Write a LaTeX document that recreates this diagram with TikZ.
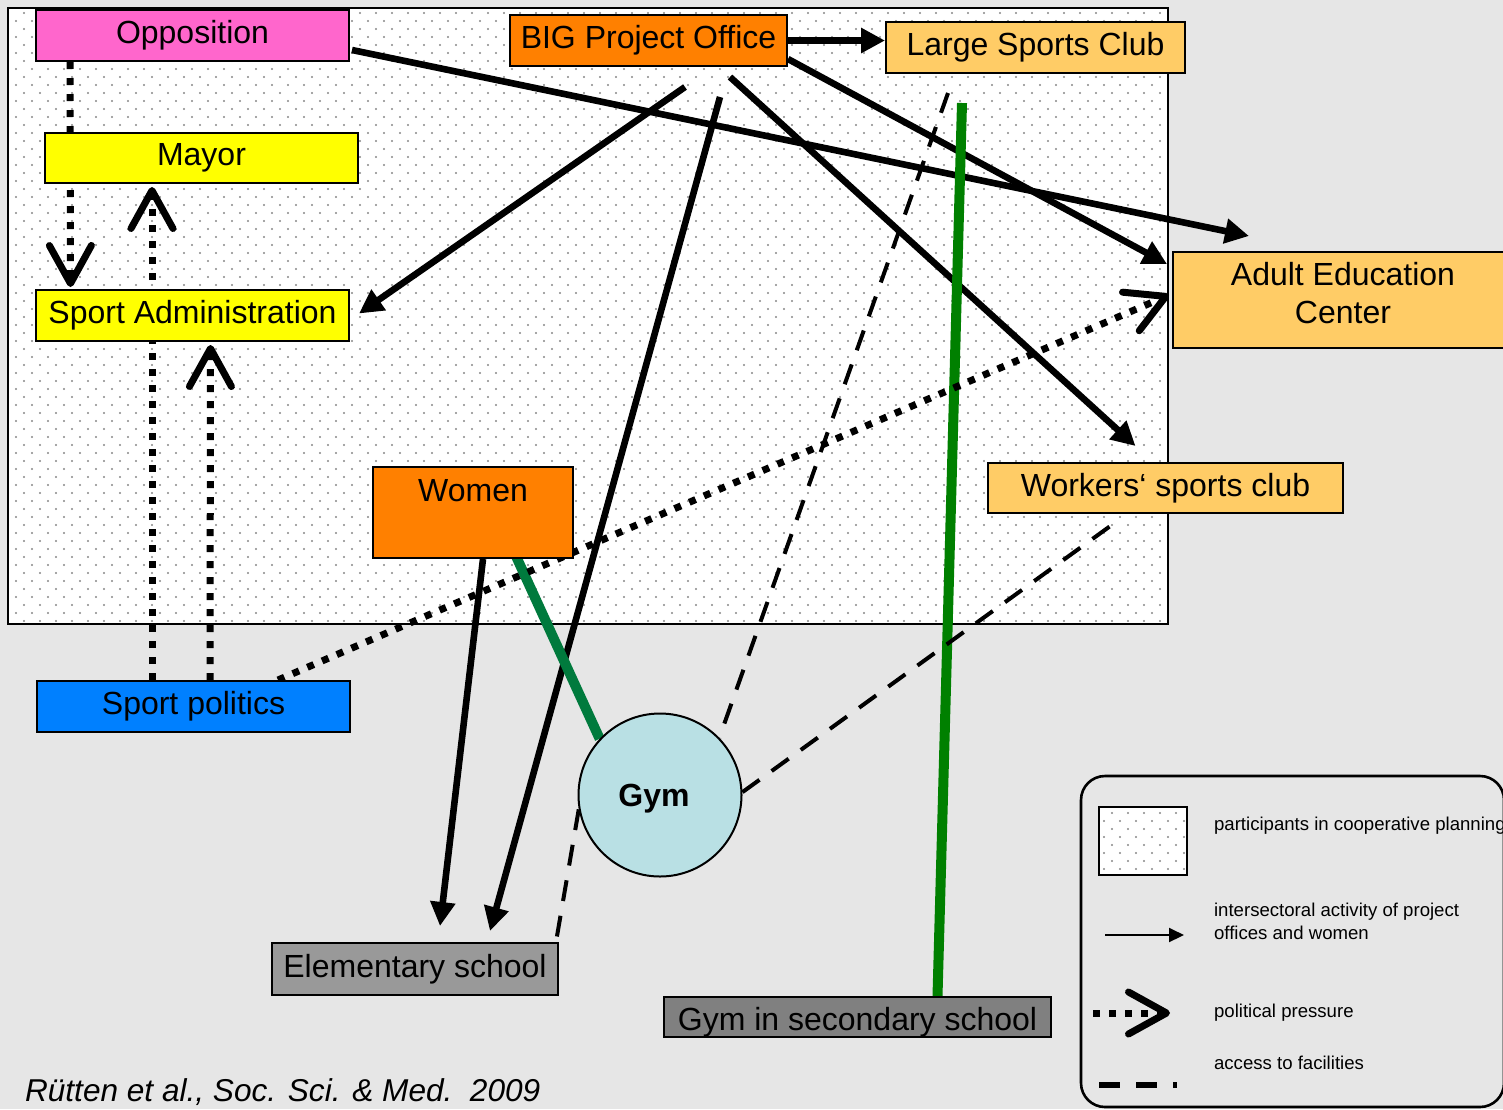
\documentclass[tikz,border=0pt]{standalone}
\usepackage{fontspec}
\setmainfont{Liberation Sans}
\usepackage[dvipsnames]{xcolor}
\usepackage{tikz}
\usetikzlibrary{shapes,arrows,arrows.meta,calc,patterns}

\definecolor{paper}{RGB}{230,230,230}
\definecolor{oppink}{RGB}{255,102,204}
\definecolor{bigorange}{RGB}{255,128,0}
\definecolor{clubsand}{RGB}{255,204,102}
\definecolor{cityyellow}{RGB}{255,255,0}
\definecolor{polblue}{RGB}{0,128,255}
\definecolor{gymteal}{RGB}{185,224,228}
\definecolor{schoolgray}{RGB}{153,153,153}
\definecolor{secgray}{RGB}{128,128,128}
\definecolor{womengreen}{RGB}{0,122,61}
\definecolor{clubgreen}{RGB}{0,128,0}
\definecolor{dotgray}{RGB}{135,135,135}

\newcommand\boxfont{\fontsize{16}{19}\selectfont}
\newcommand\keyfont{\fontsize{9.3}{11.5}\selectfont}

\pgfdeclarepatternformonly{planning dots}{\pgfqpoint{-0.6pt}{-0.6pt}}{\pgfqpoint{4.6pt}{4.6pt}}{\pgfqpoint{8pt}{8pt}}{%
  \pgfpathcircle{\pgfqpoint{0pt}{0pt}}{0.55pt}%
  \pgfpathcircle{\pgfqpoint{4pt}{4pt}}{0.55pt}%
  \pgfusepath{fill}}

\pgfdeclarelayer{bg}
\pgfdeclarelayer{edges}
\pgfsetlayers{bg,edges,main}

\begin{document}
\begin{tikzpicture}[x=0.5pt, y=-0.5pt,
	textbox/.style={font=\boxfont, draw, line width=1pt, inner sep=0, align=center},
	planning/.style={draw, line width=1pt, preaction={fill=white}, pattern=planning dots, pattern color=dotgray},
	act/.style={line width=3.3pt, -{Triangle[length=12pt,width=12pt]}},
	pressure/.style={line width=3.5pt, dash pattern=on 3.5pt off 4.5pt, -{Straight Barb[length=19pt,width=21pt,round]}},
	access/.style={line width=2pt, dash pattern=on 10.5pt off 7.5pt},
	facility/.style={line width=5pt}
]
\useasboundingbox (0,0) rectangle (1503,1109);

\node[textbox, fill=oppink, minimum width=156.5pt, minimum height=25.5pt] (opp) at (192.5,35.5) {Opposition};
\node[textbox, fill=bigorange, minimum width=138.5pt, minimum height=25.5pt] (big) at (648.5,40.5) {BIG Project Office};
\node[textbox, fill=clubsand, minimum width=149.5pt, minimum height=25.5pt] (large) at (1035.5,47.5) {Large Sports Club};
\node[textbox, fill=cityyellow, minimum width=156.5pt, minimum height=25pt] (mayor) at (201.5,158) {Mayor};
\node[textbox, fill=cityyellow, minimum width=156.5pt, minimum height=25.5pt] (admin) at (192.5,315.5) {Sport Administration};
\node[textbox, fill=clubsand, minimum width=170pt, minimum height=48pt] (adult) at (1343,300)
	{\raisebox{1.5pt}[\height][\depth]{\begin{tabular}{@{}c@{}}Adult Education\\Center\end{tabular}}};
\node[textbox, fill=clubsand, minimum width=177.5pt, minimum height=25pt] (workers) at (1165.5,488) {Workers‘ sports club};
\node[textbox, fill=bigorange, minimum width=100pt, text height=17pt, text depth=28.5pt] (women) at (473,512.5) {Women};
\node[textbox, fill=polblue, minimum width=156.5pt, minimum height=25.5pt] (politics) at (193.5,706.5) {Sport politics};
\node[circle, draw, line width=1pt, fill=gymteal, minimum size=81.5pt, inner sep=0, font=\boxfont\bfseries] (gym) at (660,795) {\raisebox{-2pt}[\height][\depth]{Gym}\hspace*{6pt}};
\node[textbox, fill=schoolgray, minimum width=143pt, minimum height=26pt] (elem) at (415,969) {Elementary school};
\node[textbox, fill=secgray, minimum width=193.5pt, text height=16.5pt, text depth=3.5pt] (secgym) at (857.5,1017) {Gym in secondary school};

\node[anchor=west, font=\fontsize{15.8}{18}\selectfont\itshape] (source) at (18,1092) {Rütten et al., Soc. Sci. \& Med.~~2009};

\node[planning, minimum width=44pt, minimum height=34pt] (keyplan) at (1143,841) {};
\node[anchor=west, font=\keyfont] (keyplantext) at (1207,826) {participants in cooperative planning};
\node[anchor=west, font=\keyfont, align=left] (keyacttext) at (1207,921) {intersectoral activity of project\\offices and women};
\node[anchor=west, font=\keyfont] (keyprestext) at (1207,1013) {political pressure};
\node[anchor=west, font=\keyfont] (keyacctext) at (1207,1063) {access to facilities};
\coordinate (keyact) at (1105,935);
\coordinate (keypres) at (1093,1013);
\coordinate (keyacc) at (1099,1085);

\begin{pgfonlayer}{bg}
\fill[paper] (0,0) rectangle (1503,1109);
\draw[planning] (8,8) rectangle (1168,624);
\draw[line width=1.3pt, rounded corners=12pt] (1081,776) rectangle (1504,1107);
\end{pgfonlayer}

\begin{pgfonlayer}{edges}
\draw[act] ($(opp.east)+(2,14.5)$) -- ($(adult.north west)+(77,-15)$);
\draw[act] (big.east) -- (large.west |- big.east);
\draw[act] ($(big.south east)+(0,-8)$) -- ($(adult.north west)+(-5,13)$);
\draw[act] ($(big.south)+(36.5,20)$) -- ($(admin.east)+(9,-2)$);
\draw[act] ($(big.south)+(71.5,30)$) -- ($(elem.north)+(75,-11)$);
\draw[act] ($(big.south)+(81.5,10)$) -- ($(workers.north)+(-30,-16)$);
\draw[act] ($(women.south)+(10,0)$) -- ($(elem.north)+(25,-16)$);

\draw[facility, womengreen] ($(women.south)+(42,-5)$) -- (gym.137);
\draw[facility, clubgreen] ($(large.south)+(-73.5,29)$) -- ($(secgym.north)+(80,0)$);

\draw[access] ($(large.south)+(-87.5,19)$) -- (gym.44);
\draw[access] (gym.2) -- ($(workers.south)+(-45.5,5)$);
\draw[access] (gym.190) -- ($(elem.north east)+(-3,0)$);

\draw[pressure] ($(politics.north)+(84.5,0)$) -- ($(adult.west)+(-3,-5)$);
\draw[pressure] ($(politics.north)+(-41.5,0)$) -- ($(mayor.south)+(-49.5,3)$);
\draw[pressure] ($(politics.north)+(16.5,0)$) -- ($(admin.south)+(18,3)$);
\draw[pressure] ($(opp.south)+(-122.5,0)$) -- ($(admin.north)+(-122,-2)$);
\end{pgfonlayer}

\draw[line width=1pt, -{Triangle[length=7.5pt,width=7pt]}] (keyact) -- ++(79,0);
\draw[pressure] (keypres) -- ++(77,0);
\draw[access, line width=3pt, dash pattern=on 10.5pt off 8pt] (keyacc) -- ++(78,0);
\end{tikzpicture}
\end{document}
